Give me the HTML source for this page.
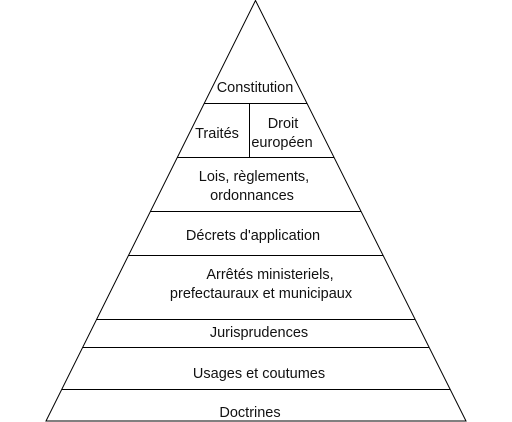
<!DOCTYPE html>
<html><head><meta charset="utf-8"><style>
html,body{margin:0;padding:0;background:#fff;width:512px;height:422px;overflow:hidden}
text{font-family:"Liberation Sans",sans-serif;font-size:14.5px;fill:#111;text-anchor:middle;dominant-baseline:central}
</style></head><body>
<svg width="512" height="422" viewBox="0 0 512 422" xmlns="http://www.w3.org/2000/svg">
<g stroke="#000" stroke-width="1" fill="none">
<polygon points="255.5,0.5 46,421 466,421"/>
<line x1="204.2" y1="103.5" x2="307.3" y2="103.5"/>
<line x1="177.3" y1="157.5" x2="334.2" y2="157.5"/>
<line x1="150.4" y1="211.5" x2="361.1" y2="211.5"/>
<line x1="128.4" y1="255.5" x2="383.1" y2="255.5"/>
<line x1="96.6" y1="319.5" x2="414.9" y2="319.5"/>
<line x1="82.6" y1="347.5" x2="428.9" y2="347.5"/>
<line x1="61.6" y1="389.5" x2="449.9" y2="389.5"/>
<line x1="249.5" y1="103.5" x2="249.5" y2="157.5"/>
</g>
<g transform="translate(0,1)">
<text x="255" y="87">Constitution</text>
<text x="217" y="133">Traités</text>
<text x="283" y="123">Droit</text>
<text x="282" y="142">européen</text>
<text x="254" y="176">Lois, règlements,</text>
<text x="252" y="195">ordonnances</text>
<text x="253" y="235">Décrets d'application</text>
<text x="270" y="274">Arrêtés ministeriels,</text>
<text x="261" y="293">prefectauraux et municipaux</text>
<text x="259" y="332">Jurisprudences</text>
<text x="259" y="373">Usages et coutumes</text>
<text x="250" y="412">Doctrines</text>
</g>
</svg>
</body></html>
